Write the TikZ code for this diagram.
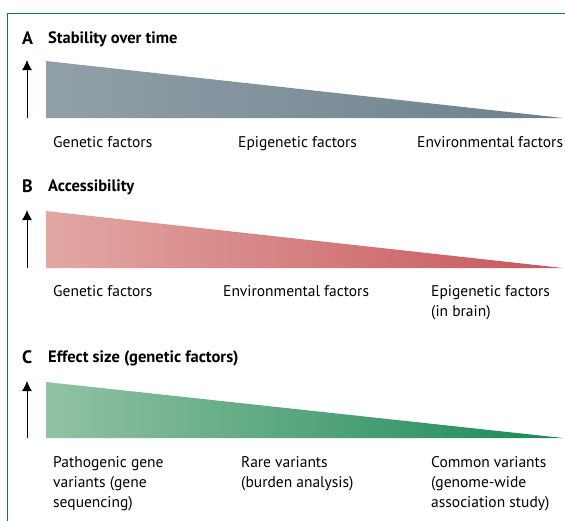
\documentclass[tikz,border=0pt]{standalone}
\usepackage{fontspec}
\setmainfont{PT Sans}
\usetikzlibrary{arrows.meta}
\begin{document}
\begin{tikzpicture}[x=1pt,y=-1pt,
  lbl/.style={anchor=base west,font=\fontsize{15.5}{20}\selectfont,inner sep=0pt},
  letter/.style={anchor=base west,font=\bfseries\fontsize{18}{20}\selectfont,inner sep=0pt},
  ttl/.style={anchor=base west,font=\bfseries\fontsize{16.5}{18}\selectfont,inner sep=0pt},
  uparrow/.style={-{Latex[length=10pt,width=10pt]},line width=1pt,black},
  frame/.style={draw=frameg,line width=1pt}]
\definecolor{frameg}{RGB}{20,120,70}
\definecolor{grayL}{RGB}{145,160,168}
\definecolor{grayR}{RGB}{108,128,140}
\definecolor{redL}{RGB}{226,168,164}
\definecolor{redR}{RGB}{198,86,92}
\definecolor{greenL}{RGB}{146,194,164}
\definecolor{greenR}{RGB}{26,136,88}
\newcommand{\mlines}[1]{\begin{tabular}[t]{@{}l@{}}#1\end{tabular}}
\useasboundingbox (0,0) rectangle (565,520);
\draw[frame] (7,530) -- (7,13) -- (575,13);
% Panel A
\node[letter] (la) at (22,44) {A};
\node[ttl] (ta) at (48,43) {Stability over time};
\shade[left color=grayL,right color=grayR] (46,61) -- (563,118) -- (46,118) -- cycle;
\coordinate (a0) at (27,118);
\coordinate (a1) at (27,60);
\draw[uparrow] (a0) -- (a1);
\node[lbl] (a_gen) at (53,147) {Genetic factors};
\node[lbl] (a_epi) at (238,147) {Epigenetic factors};
\node[lbl] (a_env) at (417,147) {Environmental factors};
% Panel B
\node[letter] (lb) at (22,192) {B};
\node[ttl] (tb) at (48,191) {Accessibility};
\shade[left color=redL,right color=redR] (46,211) -- (563,268) -- (46,268) -- cycle;
\coordinate (b0) at (27,268);
\coordinate (b1) at (27,210);
\draw[uparrow] (b0) -- (b1);
\node[lbl] (b_gen) at (53,296) {Genetic factors};
\node[lbl] (b_env) at (223,296) {Environmental factors};
\node[lbl] (b_epi) at (431,296) {\mlines{Epigenetic factors\\(in brain)}};
% Panel C
\node[letter] (lc) at (22,363) {C};
\node[ttl] (tc) at (48,362) {Effect size (genetic factors)};
\shade[left color=greenL,right color=greenR] (46,382) -- (563,438) -- (46,438) -- cycle;
\coordinate (c0) at (27,438);
\coordinate (c1) at (27,381);
\draw[uparrow] (c0) -- (c1);
\node[lbl] (c_pat) at (53,467) {\mlines{Pathogenic gene\\variants (gene\\sequencing)}};
\node[lbl] (c_rare) at (241,467) {\mlines{Rare variants\\(burden analysis)}};
\node[lbl] (c_com) at (431,467) {\mlines{Common variants\\(genome-wide\\association study)}};
\end{tikzpicture}
\end{document}
